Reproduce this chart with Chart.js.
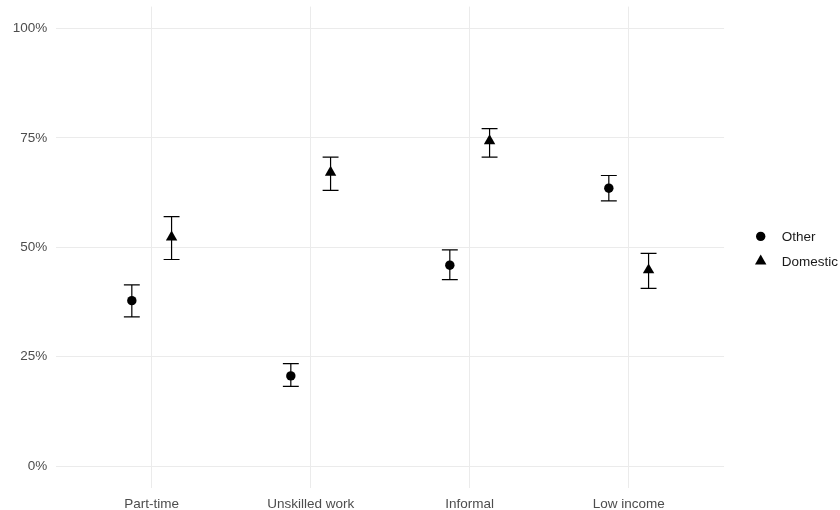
<!DOCTYPE html>
<html><head><meta charset="utf-8">
<script src="https://cdn.jsdelivr.net/npm/chart.js@4.4.1/dist/chart.umd.min.js"></script>
<style>html,body{margin:0;padding:0;background:#fff;overflow:hidden}#wrap{width:840px;height:510px;position:relative}</style>
</head><body><div id="wrap"><canvas id="c" width="840" height="510"></canvas></div>
<script>
const categories = ['Part-time', 'Unskilled work', 'Informal', 'Low income'];
const seriesNames = ['Other', 'Domestic'];
const otherEst  = [0.378, 0.206, 0.459, 0.635];
const otherLow  = [0.341, 0.182, 0.426, 0.606];
const otherHigh = [0.414, 0.234, 0.494, 0.664];
const domEst    = [0.523, 0.671, 0.743, 0.448];
const domLow    = [0.472, 0.630, 0.706, 0.406];
const domHigh   = [0.570, 0.706, 0.771, 0.486];
const yTicks = [0, 0.25, 0.5, 0.75, 1];

const DODGE = 0.125;
const CAP = 0.05;
const FONT = 'Liberation Sans, Arial, sans-serif';

function build(est, lo, hi, off) {
  return categories.map((c, i) => ({ x: i + off, y: est[i], lo: lo[i], hi: hi[i] }));
}

const errorBars = {
  id: 'errorBars',
  beforeDatasetsDraw(chart) {
    const ctx = chart.ctx, xs = chart.scales.x, ys = chart.scales.y;
    ctx.save();
    ctx.strokeStyle = '#000';
    ctx.lineWidth = 1.2;
    chart.data.datasets.forEach(ds => {
      ds.data.forEach(d => {
        const x = xs.getPixelForValue(d.x);
        const xl = xs.getPixelForValue(d.x - CAP), xr = xs.getPixelForValue(d.x + CAP);
        const yl = ys.getPixelForValue(d.lo), yh = ys.getPixelForValue(d.hi);
        ctx.beginPath();
        ctx.moveTo(x, yl); ctx.lineTo(x, yh);
        ctx.moveTo(xl, yl); ctx.lineTo(xr, yl);
        ctx.moveTo(xl, yh); ctx.lineTo(xr, yh);
        ctx.stroke();
      });
    });
    ctx.restore();
  }
};

const customLegend = {
  id: 'customLegend',
  afterDraw(chart) {
    const ctx = chart.ctx;
    const area = chart.chartArea;
    const cy = (area.top + area.bottom) / 2 + 1.5;
    const gap = 24.7;
    ctx.save();
    chart.data.datasets.forEach((ds, k) => {
      const y = cy - gap / 2 + k * gap;
      ctx.fillStyle = '#000';
      Chart.helpers.drawPoint(ctx, { pointStyle: ds.pointStyle, radius: ds.pointRadius, rotation: 0, borderWidth: 0 }, 760.7, y);
      ctx.fillStyle = '#1a1a1a';
      ctx.font = '13.5px ' + FONT;
      ctx.textAlign = 'left';
      ctx.textBaseline = 'middle';
      ctx.fillText(ds.label, 781.7, y + 1);
    });
    ctx.restore();
  }
};

new Chart(document.getElementById('c'), {
  type: 'scatter',
  data: {
    datasets: [
      { label: seriesNames[0], data: build(otherEst, otherLow, otherHigh, -DODGE), pointStyle: 'circle', pointRadius: 4.7, backgroundColor: '#000', borderColor: '#000', borderWidth: 0 },
      { label: seriesNames[1], data: build(domEst, domLow, domHigh, DODGE), pointStyle: 'triangle', pointRadius: 6.6, backgroundColor: '#000', borderColor: '#000', borderWidth: 0 }
    ]
  },
  options: {
    responsive: false,
    devicePixelRatio: 1,
    animation: false,
    layout: { padding: { top: 6.6, right: 115.9, left: 0, bottom: 0 } },
    plugins: { legend: { display: false }, tooltip: { enabled: false } },
    scales: {
      x: {
        type: 'linear', min: -0.6, max: 3.6,
        afterBuildTicks: s => { s.ticks = categories.map((c, i) => ({ value: i })); },
        afterFit: s => { s.height = 22.1; s.paddingLeft = 0; s.paddingRight = 0; },
        ticks: { callback: v => categories[v], color: '#4d4d4d', font: { family: FONT, size: 13.5 }, padding: 8, maxRotation: 0, autoSkip: false },
        grid: { color: '#ebebeb', lineWidth: 1, drawTicks: false },
        border: { display: false }
      },
      y: {
        type: 'linear', min: -0.05, max: 1.05,
        afterBuildTicks: s => { s.ticks = yTicks.map(v => ({ value: v })); },
        afterFit: s => { s.width = 56.3; s.paddingTop = 0; s.paddingBottom = 0; },
        ticks: { callback: v => Math.round(v * 100) + '%', color: '#4d4d4d', font: { family: FONT, size: 13.5 }, padding: 9 },
        grid: { color: '#ebebeb', lineWidth: 1, drawTicks: false },
        border: { display: false }
      }
    }
  },
  plugins: [errorBars, customLegend]
});
</script></body></html>
